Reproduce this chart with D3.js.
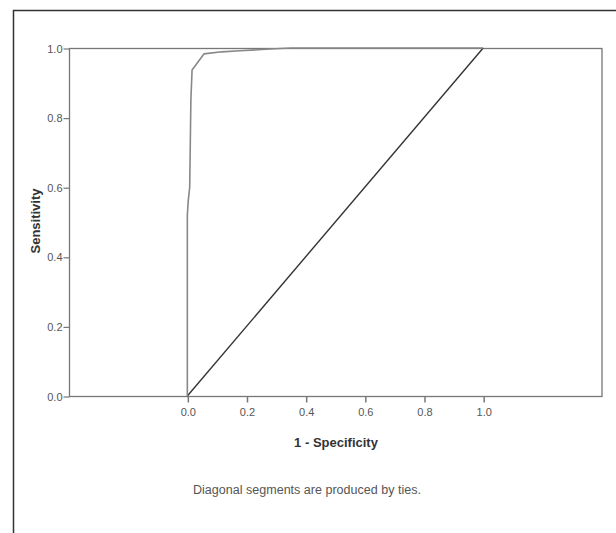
<!DOCTYPE html>
<html>
<head>
<meta charset="utf-8">
<script src="https://cdn.jsdelivr.net/npm/d3@7"></script>
<style>
	body { margin: 0; background: #fff; }
	svg text { font-family: "Liberation Sans", Arial, sans-serif; }
</style>
</head>
<body>
<svg id="chart" width="616" height="533"></svg>
<script>
// ROC curve points
var fpr = [0, 0, 0.003, 0.008, 0.012, 0.016, 0.056, 0.116, 0.178, 0.28, 0.35, 1.0];
var tpr = [0, 0.52, 0.56, 0.60, 0.85, 0.937, 0.983, 0.989, 0.992, 0.997, 1.0, 1.0];
// reference line
var refX = [0, 1];
var refY = [0, 1];
var xTicks = [0, 0.2, 0.4, 0.6, 0.8, 1.0];
var yTicks = [0, 0.2, 0.4, 0.6, 0.8, 1.0];
var xTitle = "1 - Specificity";
var yTitle = "Sensitivity";
var footnote = "Diagonal segments are produced by ties.";

var svg = d3.select("#chart");

/*
	outer frame (only top and left edge are visible)
*/
svg.append("path")
	.attr("d", "M13.5,533 L13.5,10.5 L616,10.5")
	.attr("fill", "none")
	.attr("stroke", "#333")
	.attr("stroke-width", 1.5);

var plot = {left: 69, right: 601.5, top: 48, bottom: 396};

var xScale = d3.scaleLinear().domain([-0.4, 1.4]).range([plot.left, plot.right]);
var yScale = d3.scaleLinear().domain([0, 1]).range([plot.bottom, plot.top]);

// plot box
svg.append("rect")
	.attr("x", plot.left + 0.5)
	.attr("y", plot.top + 0.5)
	.attr("width", plot.right - plot.left)
	.attr("height", plot.bottom - plot.top)
	.attr("fill", "none")
	.attr("stroke", "#777")
	.attr("stroke-width", 1.3);

var yAxis = svg.append("g")
	.attr("transform", "translate(" + (plot.left + 0.5) + ",0.5)")
	.call(d3.axisLeft(yScale).tickValues(yTicks).tickFormat(d3.format(".1f")).tickSize(6).tickPadding(1));
yAxis.select(".domain").remove();
yAxis.selectAll(".tick line").attr("stroke", "#777").attr("stroke-width", 1.2);
yAxis.selectAll(".tick text").attr("fill", "#555").style("font-size", "11px");

var xAxis = svg.append("g")
	.attr("transform", "translate(0.5," + (plot.bottom + 0.5) + ")")
	.call(d3.axisBottom(xScale).tickValues(xTicks).tickFormat(d3.format(".1f")).tickSize(6).tickPadding(6));
xAxis.select(".domain").remove();
xAxis.selectAll(".tick line").attr("stroke", "#777").attr("stroke-width", 1.5);
xAxis.selectAll(".tick text").attr("fill", "#555").style("font-size", "11px");

var line = d3.line()
	.x(function(d) { return xScale(d[0]); })
	.y(function(d) { return yScale(d[1]); });

// diagonal reference line
svg.append("path")
	.datum(d3.zip(refX, refY))
	.attr("d", line)
	.attr("fill", "none")
	.attr("stroke", "#333")
	.attr("stroke-width", 1.4);

// ROC curve
svg.append("path")
	.datum(d3.zip(fpr, tpr))
	.attr("d", line)
	.attr("fill", "none")
	.attr("stroke", "#888")
	.attr("stroke-width", 1.6)
	.attr("stroke-linejoin", "round");

svg.append("text")
	.attr("x", 336)
	.attr("y", 447)
	.attr("text-anchor", "middle")
	.attr("fill", "#333")
	.style("font-size", "13px")
	.style("font-weight", "bold")
	.text(xTitle);

svg.append("text")
	.attr("transform", "translate(40,221) rotate(-90)")
	.attr("text-anchor", "middle")
	.attr("fill", "#333")
	.style("font-size", "13px")
	.style("font-weight", "bold")
	.text(yTitle);

svg.append("text")
	.attr("x", 307)
	.attr("y", 494)
	.attr("text-anchor", "middle")
	.attr("fill", "#555")
	.attr("textLength", 228)
	.attr("lengthAdjust", "spacingAndGlyphs")
	.style("font-size", "12px")
	.text(footnote);
</script>
</body>
</html>
